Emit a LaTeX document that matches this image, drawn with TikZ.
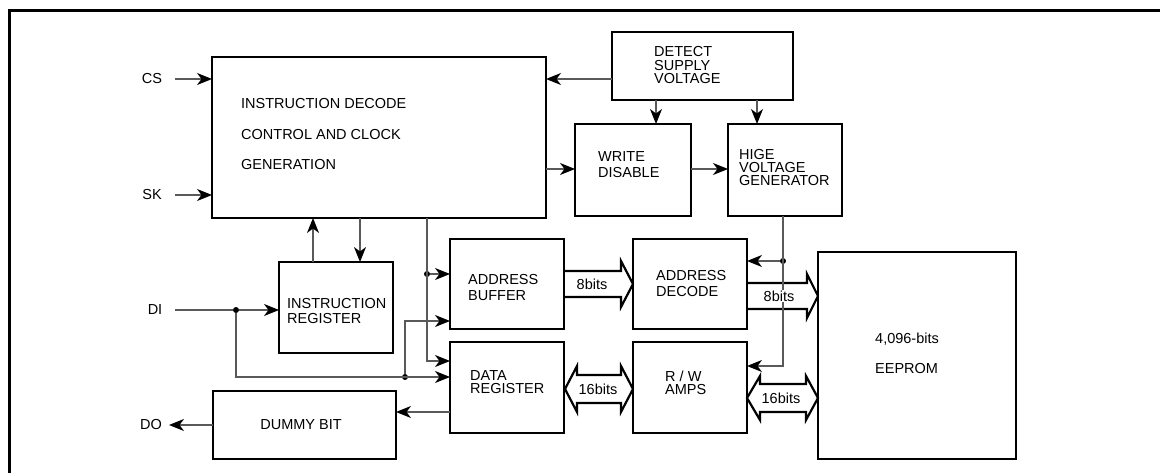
\documentclass[tikz,border=0pt]{standalone}
\usepackage{fontspec}
\setmainfont{Liberation Sans}
\usetikzlibrary{arrows.meta}
\begin{document}
\begin{tikzpicture}[x=1pt,y=-1pt,
  every node/.style={font=\fontsize{14.5}{16}\selectfont},
  box/.style={draw, line width=2.8pt, inner sep=0pt, outer sep=0pt},
  conn/.style={draw=black!65, line width=1.3pt},
  arr/.style={conn, -{Stealth[length=15pt,width=12pt,inset=4.5pt,color=black]}},
  dot/.style={circle, fill=black, inner sep=0pt, minimum size=6pt},
  lbl/.style={inner sep=0pt, anchor=west, align=left},
  fat/.style={draw, fill=white, line width=2.2pt, line join=miter},
  bits/.style={fill=white, inner sep=1pt}
]
\useasboundingbox (0,0) rectangle (1160,473);
% frame
\draw[line width=3pt] (9,480) -- (9,11) -- (1170,11);

% helper coordinates
\foreach \n/\x in {x175/175, x313/313, x360/360, x427/427, x236/236, x405/405, x656/656, x757/757, x783/783, x169/169}
  \coordinate (\n) at (\x,0);
\foreach \n/\y in {y79/79, y169/169, y195/195, y274/274, y261/261, y310/310, y321/321, y361/361, y366/366, y377/377, y412/412, y425/425}
  \coordinate (\n) at (0,\y);

% fat arrows
\draw[fat] (564,271) -- (621,271) -- (621,261) -- (633,284) -- (621,307) -- (621,297) -- (564,297);
\draw[fat] (747,283) -- (807,283) -- (807,274) -- (818,296) -- (807,318) -- (807,309) -- (747,309);
\draw[fat] (577,375) -- (621,375) -- (621,366) -- (633,389) -- (621,412) -- (621,403) -- (577,403) -- (577,412) -- (565,389) -- (577,366) -- cycle;
\draw[fat] (760,384) -- (806,384) -- (806,376) -- (818,398) -- (806,420) -- (806,412) -- (760,412) -- (760,420) -- (747,398) -- (760,376) -- cycle;

% boxes
\node[box, minimum width=334pt, minimum height=161pt] (idc) at (379,137.5) {};
\node[box, minimum width=181pt, minimum height=68pt] (dsv) at (702.5,66) {};
\node[box, minimum width=116pt, minimum height=92pt] (wd) at (633,170) {};
\node[box, minimum width=114pt, minimum height=92pt] (hvg) at (785,170) {};
\node[box, minimum width=114pt, minimum height=91pt] (ir) at (336,307.5) {};
\node[box, minimum width=114pt, minimum height=90pt] (ab) at (507,284) {};
\node[box, minimum width=114pt, minimum height=91pt] (dr) at (507,387.5) {};
\node[box, minimum width=114pt, minimum height=90pt] (ad) at (690,284) {};
\node[box, minimum width=114pt, minimum height=91pt] (rw) at (690,387.5) {};
\node[box, minimum width=198pt, minimum height=207pt] (eep) at (917,355.5) {};
\node[box, minimum width=183pt, minimum height=68pt] (dummy) at (304.5,425) {};

% box texts
\node[lbl, font=\fontsize{14.5}{30.5}\selectfont] (tidc) at (241,134.5) {INSTRUCTION DECODE\\CONTROL AND CLOCK\\GENERATION};
\node[lbl, font=\fontsize{14.5}{13.5}\selectfont] (tdsv) at (654,65.5) {DETECT\\SUPPLY\\VOLTAGE};
\node[lbl, font=\fontsize{14.5}{16}\selectfont] (twd) at (598,165) {WRITE\\DISABLE};
\node[lbl, font=\fontsize{14.5}{13}\selectfont] (thvg) at (739,168) {HIGE\\VOLTAGE\\GENERATOR};
\node[lbl, font=\fontsize{14.5}{15}\selectfont] (tir) at (287,311.5) {INSTRUCTION\\REGISTER};
\node[lbl, font=\fontsize{14.5}{16}\selectfont] (tab) at (468,288) {ADDRESS\\BUFFER};
\node[lbl, font=\fontsize{14.5}{16}\selectfont] (tad) at (656,284) {ADDRESS\\DECODE};
\node[lbl, font=\fontsize{14.5}{13}\selectfont] (tdr) at (470,382.5) {DATA\\REGISTER};
\node[lbl, font=\fontsize{14.5}{13}\selectfont] (trw) at (665,382.5) {R / W\\AMPS};
\node[lbl, font=\fontsize{14.5}{30}\selectfont] (teep) at (875,353) {4,096-bits\\EEPROM};
\node[inner sep=0pt] (tdummy) at (301,425) {DUMMY BIT};

% pin labels
\node[inner sep=0pt] (cs) at (152,79) {CS};
\node[inner sep=0pt] (sk) at (152,195) {SK};
\node[inner sep=0pt] (di) at (155,310) {DI};
\node[inner sep=0pt] (do) at (151,425) {DO};

% dots
\node[dot] (d1) at (236,310) {};
\node[dot] (d2) at (405,377) {};
\node[dot] (d3) at (427,274) {};
\node[dot] (d4) at (783,261) {};

% connectors
\draw[arr] (x175 |- cs) -- (idc.west |- cs);
\draw[arr] (x175 |- sk) -- (idc.west |- sk);
\draw[arr] (dsv.west |- y79) -- (idc.east |- y79);
\draw[arr] (idc.east |- y169) -- (wd.west |- y169);
\draw[arr] (wd.east |- y169) -- (hvg.west |- y169);
\draw[arr] (dsv.south -| x656) -- (wd.north -| x656);
\draw[arr] (dsv.south -| x757) -- (hvg.north -| x757);
\draw[arr] (ir.north -| x313) -- (idc.south -| x313);
\draw[arr] (idc.south -| x360) -- (ir.north -| x360);
\draw[arr] (idc.south -| x427) -- (x427 |- y361) -- (dr.west |- y361);
\draw[arr] (d3) -- (ab.west |- d3);
\draw[conn] (x175 |- di) -- (d1);
\draw[arr] (d1) -- (ir.west |- d1);
\draw[arr] (d1) -- (d1 |- y377) -- (dr.west |- y377);
\draw[arr] (d2) -- (d2 |- y321) -- (ab.west |- y321);
\draw[arr] (dr.west |- y412) -- (dummy.east |- y412);
\draw[arr] (dummy.west |- y425) -- (x169 |- y425);
\draw[arr] (hvg.south -| x783) -- (x783 |- y366) -- (rw.east |- y366);
\draw[arr] (d4) -- (ad.east |- d4);

% bus labels
\node[bits] (b1) at (592,284) {8bits};
\node[bits] (b2) at (779,296) {8bits};
\node[bits] (b3) at (598,389) {16bits};
\node[bits] (b4) at (781,398) {16bits};
\end{tikzpicture}
\end{document}
